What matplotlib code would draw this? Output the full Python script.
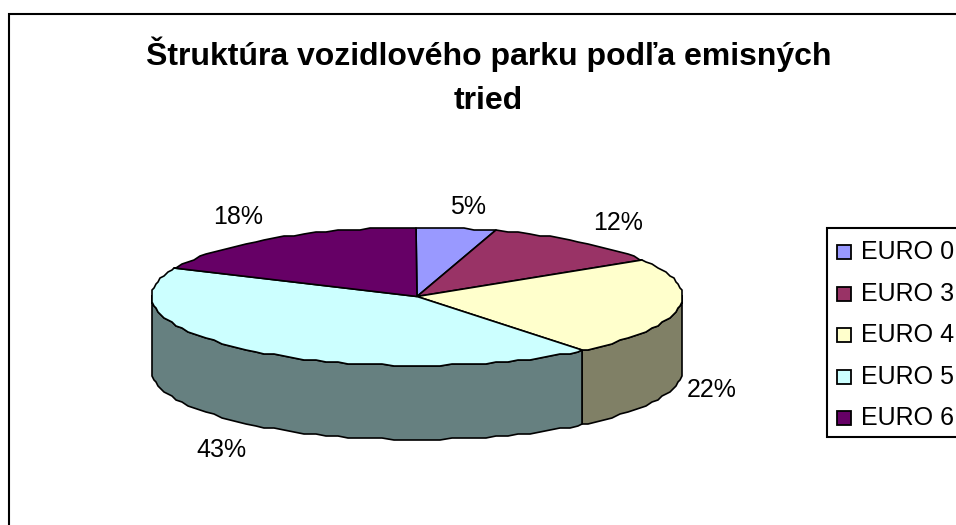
import numpy as np
import matplotlib
matplotlib.use('Agg')
import matplotlib.pyplot as plt
from matplotlib.patches import Polygon, Rectangle

plt.rcParams['font.family'] = ['Liberation Sans', 'DejaVu Sans']

categories = ['EURO 0', 'EURO 3', 'EURO 4', 'EURO 5', 'EURO 6']
value_labels = ['5%', '12%', '22%', '43%', '18%']
# slice shares as they are drawn in the picture (its 3D view skews them a little from the labels)
shares = [4.8, 11.3, 23.2, 42.4, 18.3]
title = 'Štruktúra vozidlového parku podľa emisných\ntried'

colors = ['#9999FF', '#993366', '#FFFFCC', '#CCFFFF', '#660066']
side_colors = ['#4C4C80', '#4C1933', '#808066', '#668080', '#330033']

# pie geometry, in picture pixels
cx, cy = 417, 296.5
rx, ry = 265.5, 69
depth = 74
snap = 2


def rim(theta_deg, shift=0):
    # theta runs clockwise from 12 o'clock, snapped to a coarse grid for the rough edge
    t = np.radians(theta_deg)
    x = np.round((cx + rx * np.sin(t)) / snap) * snap
    y = np.round((cy - ry * np.cos(t)) / snap) * snap
    return np.column_stack([x, y + shift])


def arc(start, end):
    steps = np.arange(np.ceil(start / 2.5), end / 2.5) * 2.5
    return np.unique(np.concatenate([[start], steps, [end]]))


fig = plt.figure(figsize=(9.56, 5.25), dpi=100)
ax = fig.add_axes([0, 0, 1, 1])
ax.set_xlim(0, 956)
ax.set_ylim(525, 0)
ax.axis('off')

# chart frame, runs off the right and bottom of the picture
ax.add_patch(Rectangle((9, 14), 960, 530, fc='white', ec='black', lw=1.5))

edges = np.concatenate([[0], np.cumsum(shares)]) / sum(shares) * 360

# side wall, only the front half of the rim shows
for i in range(len(shares)):
    start = max(edges[i], 90)
    end = min(edges[i + 1], 270)
    if end <= start:
        continue
    th = arc(start, end)
    pts = np.vstack([rim(th), rim(th[::-1], depth)])
    ax.add_patch(Polygon(pts, closed=True, fc=side_colors[i], ec='black', lw=1.2, joinstyle='round'))

# top face
for i in range(len(shares)):
    th = arc(edges[i], edges[i + 1])
    pts = np.vstack([[[cx, cy]], rim(th)])
    ax.add_patch(Polygon(pts, closed=True, fc=colors[i], ec='black', lw=1.2, joinstyle='round'))

ax.text(488.5, 76, title, ha='center', va='center', fontsize=23, fontweight='bold',
        linespacing=1.6)

label_pos = [(468, 207), (618, 223), (712, 390), (221, 450), (238, 217)]
for lab, (x, y) in zip(value_labels, label_pos):
    ax.text(x, y, lab, ha='center', va='center', fontsize=18)

# legend box runs off the right side as well
ax.add_patch(Rectangle((827, 228), 140, 209, fc='white', ec='black', lw=1.5))
for i, (name, c) in enumerate(zip(categories, colors)):
    y = 252 + 41.6 * i
    ax.add_patch(Rectangle((837, y - 7), 14, 14, fc=c, ec='black', lw=1.3))
    ax.text(861, y, name, ha='left', va='center', fontsize=18)

fig.savefig('out.png', dpi=100)
